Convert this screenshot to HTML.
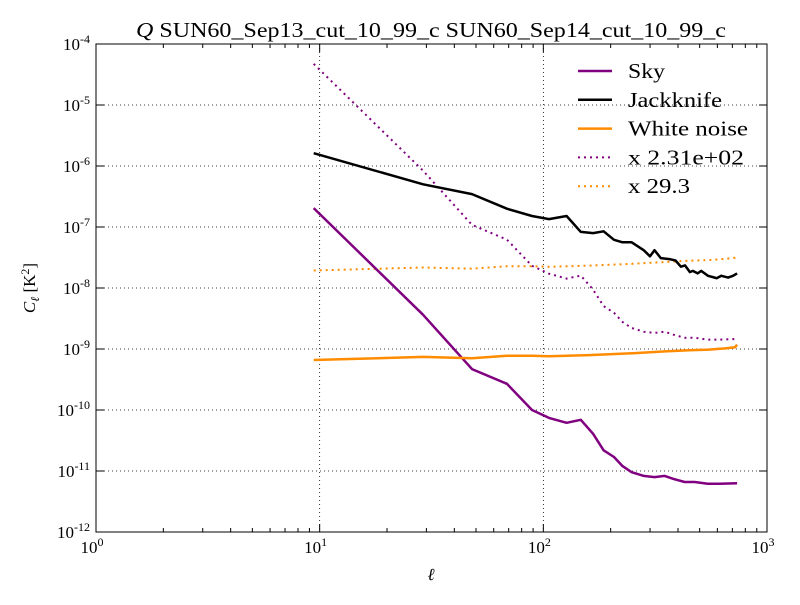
<!DOCTYPE html>
<html><head><meta charset="utf-8"><style>
body{margin:0;background:#fff}
svg text{font-family:"Liberation Serif",serif;fill:#000}
</style></head><body>
<svg id="c" width="800" height="600" xmlns="http://www.w3.org/2000/svg"></svg>
<script>
const skyEll=[9.4,29,48,68.7,89,106,127,147,167,186,207,226,248,281,314,349,382,428,475,543,613,735];
const skyLog=[-6.69,-8.44,-9.33,-9.57,-10.0,-10.13,-10.21,-10.16,-10.39,-10.66,-10.77,-10.92,-11.02,-11.08,-11.10,-11.08,-11.13,-11.18,-11.18,-11.21,-11.21,-11.20];
const jkEll=[9.4,29,48,68.7,89,106,127,147,167,186,207,226,248,281,300,314,335,370,390,412,430,452,466,490,508,545,570,595,625,670,705,735];
const jkLog=[-5.79,-6.30,-6.46,-6.70,-6.82,-6.87,-6.82,-7.08,-7.10,-7.07,-7.21,-7.25,-7.25,-7.38,-7.48,-7.38,-7.51,-7.53,-7.55,-7.65,-7.63,-7.74,-7.72,-7.76,-7.72,-7.80,-7.82,-7.84,-7.80,-7.83,-7.80,-7.76];
const wnEll=[9.4,29,48,68.7,89,106,160,250,350,450,550,650,720,735];
const wnLog=[-9.18,-9.13,-9.15,-9.11,-9.11,-9.12,-9.10,-9.07,-9.04,-9.02,-9.01,-8.99,-8.97,-8.93];
const skyScale=231, wnScale=29.3;
const xTicks=[0,1,2,3], yTicks=[-4,-5,-6,-7,-8,-9,-10,-11,-12];
const L=96,R=767,T=44,B=532;
const X=l=>L+(R-L)*(Math.log10(l)-0)/3;
const Y=lg=>T+(B-T)*(-4-lg)/8;
const svg=document.getElementById('c');
const NS='http://www.w3.org/2000/svg';
function mk(t,a,p){const e=document.createElementNS(NS,t);for(const k in a)e.setAttribute(k,a[k]);(p||svg).appendChild(e);return e;}
xTicks.forEach(t=>{if(t>0&&t<3){const g=mk('line',{x1:X(10**t),x2:X(10**t),y1:T,y2:B,stroke:'#000','stroke-dasharray':'1,3','stroke-width':0.8});

}});
yTicks.forEach(t=>{if(t<-4&&t>-12){const g=mk('line',{x1:L,x2:R,y1:Y(t),y2:Y(t),stroke:'#000','stroke-dasharray':'1,3','stroke-width':0.8});

}});
function path(ell,lg,off,color,dash,name){
 const d=ell.map((l,i)=>(i?'L':'M')+X(l).toFixed(1)+','+Y(lg[i]+off).toFixed(1)).join('');
 const p=mk('path',{d:d,fill:'none',stroke:color,'stroke-width':dash?2:2.5,'stroke-dasharray':dash?'2,4':'none','stroke-linejoin':'round'});
 
 
}
path(skyEll,skyLog,Math.log10(skyScale),'#800080',true,'sky-scaled-line');
path(wnEll,wnLog,Math.log10(wnScale),'#ff8c00',true,'white-noise-scaled-line');
path(skyEll,skyLog,0,'#800080',false,'sky-line');
path(jkEll,jkLog,0,'#000',false,'jackknife-line');
path(wnEll,wnLog,0,'#ff8c00',false,'white-noise-line');
const fr=mk('rect',{x:L,y:T,width:R-L,height:B-T,fill:'none',stroke:'#000','stroke-width':1});


xTicks.forEach(t=>{const x=X(10**t);
 mk('line',{x1:x,x2:x,y1:B,y2:B-8,stroke:'#000'});mk('line',{x1:x,x2:x,y1:T,y2:T+8,stroke:'#000'});
 for(let m=2;m<10&&t<3;m++){const xm=X(m*10**t);mk('line',{x1:xm,x2:xm,y1:B,y2:B-4,stroke:'#000'});mk('line',{x1:xm,x2:xm,y1:T,y2:T+4,stroke:'#000'});}
 const tx=mk('text',{x:x-4,y:B+21,'font-size':17,'text-anchor':'middle'});
 
 
 tx.innerHTML='10<tspan dy="-7" font-size="12">'+t+'</tspan>';
});
yTicks.forEach(t=>{const y=Y(t);
 mk('line',{x1:L,x2:L+8,y1:y,y2:y,stroke:'#000'});mk('line',{x1:R,x2:R-8,y1:y,y2:y,stroke:'#000'});
 const tx=mk('text',{x:L-6,y:y+6,'font-size':17,'text-anchor':'end'});
 
 
 tx.innerHTML='10<tspan dy="-7" font-size="12">'+t+'</tspan>';
});
let e=mk('text',{x:136,y:37,'font-size':21,textLength:590,lengthAdjust:'spacingAndGlyphs'});


e.innerHTML='<tspan font-style="italic">Q</tspan> SUN60_Sep13_cut_10_99_c SUN60_Sep14_cut_10_99_c';
e=mk('text',{x:431,y:580,'font-size':17,'font-style':'italic','text-anchor':'middle'});


e.textContent='ℓ';
e=mk('text',{x:0,y:0,'font-size':17,'text-anchor':'middle',transform:'translate(35,288) rotate(-90)'});


e.innerHTML='<tspan font-style="italic">C</tspan><tspan font-size="12" dy="4" font-style="italic">ℓ</tspan><tspan dy="-4"> [K</tspan><tspan font-size="12" dy="-6">2</tspan><tspan dy="6">]</tspan>';
const leg=[['Sky','#800080',false,37],['Jackknife','#000',false,94],['White noise','#ff8c00',false,120],['x 2.31e+02','#800080',true,116],['x 29.3','#ff8c00',true,62]];
leg.forEach((g,i)=>{const y=71+i*28.8;
 const grp=mk('g',{});
 
 
 mk('line',{x1:578,x2:612,y1:y,y2:y,stroke:g[1],'stroke-width':g[2]?2:2.5,'stroke-dasharray':g[2]?'2,4':'none'},grp);
 const t=mk('text',{x:628,y:y+7,'font-size':21,textLength:g[3],lengthAdjust:'spacingAndGlyphs'},grp);t.textContent=g[0];
});
</script>
</body></html>
